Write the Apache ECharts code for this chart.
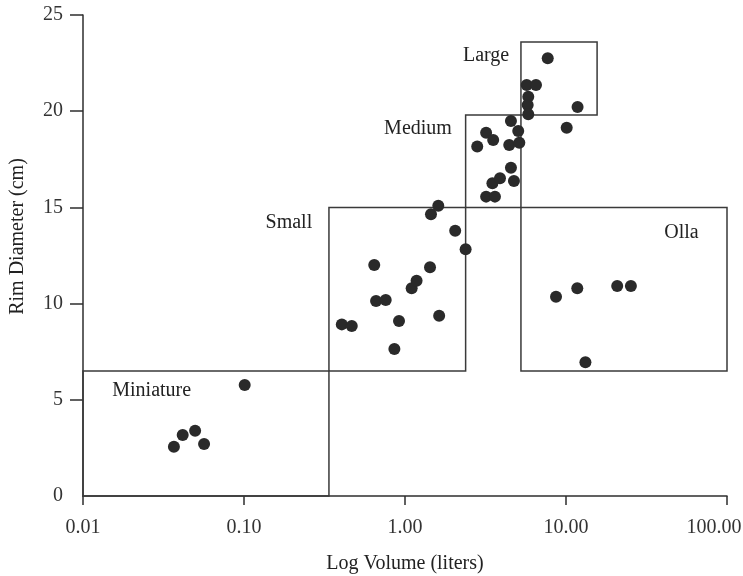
<!DOCTYPE html>
<html>
<head>
<meta charset="utf-8">
<script src="https://cdn.jsdelivr.net/npm/echarts@6/dist/echarts.min.js"></script>
<style>
  html, body { margin: 0; padding: 0; background: #fff; }
  #chart { width: 743px; height: 576px; }
</style>
</head>
<body>
<div id="chart"></div>
<script>
// vessel volume (liters) and rim diameter (cm)
const volume = [
  0.0367, 0.0416, 0.0497, 0.0565, 0.101,
  0.405, 0.467, 0.644, 0.661, 0.759, 0.859, 0.918, 1.10, 1.18, 1.43, 1.63, 1.45, 1.61, 2.05, 2.38,
  2.81, 3.19, 3.53, 4.44, 5.13, 4.55, 5.05, 4.55, 3.49, 3.89, 4.75, 3.19, 3.62,
  5.70, 6.51, 5.83, 5.78, 5.83, 7.70, 11.8, 10.1,
  8.67, 11.75, 20.8, 25.3, 13.2
];
const rimDiameter = [
  2.56, 3.17, 3.39, 2.70, 5.77,
  8.92, 8.84, 12.01, 10.14, 10.19, 7.64, 9.10, 10.80, 11.19, 11.89, 9.37, 14.64, 15.09, 13.79, 12.82,
  18.16, 18.88, 18.50, 18.24, 18.36, 19.49, 18.97, 17.06, 16.25, 16.51, 16.37, 15.56, 15.56,
  21.36, 21.36, 20.75, 20.32, 19.84, 22.75, 20.22, 19.14,
  10.36, 10.80, 10.91, 10.91, 6.95
];

// size classes and their bounds
const classNames = ['Miniature', 'Small', 'Medium', 'Large', 'Olla'];
const classVolMin = [0.01, 0.337, 2.38, 5.25, 5.25];
const classVolMax = [0.337, 2.38, 5.25, 15.6, 100];
const classRimMin = [0, 6.5, 15, 19.8, 6.5];
const classRimMax = [6.5, 15, 19.8, 23.6, 15];

const xTicks = [0.01, 0.1, 1, 10, 100];
const yTicks = [5, 10, 15, 20, 25];

const font = 'Liberation Serif';
const ink = '#2e2e2e';

// where each class label sits relative to its box
const labelPlace = {
  Miniature: { position: [30, 21], align: 'left' },
  Small: { position: [-16, 16], align: 'right' },
  Medium: { position: [-13, 14], align: 'right' },
  Large: { position: [-11, 15], align: 'right' },
  Olla: { position: [144, 26], align: 'left' }
};

const areas = classNames.map((name, i) => [
  {
    name: name,
    xAxis: classVolMin[i],
    yAxis: classRimMin[i],
    label: {
      show: true,
      position: labelPlace[name].position,
      align: labelPlace[name].align,
      verticalAlign: 'middle',
      color: '#222',
      fontFamily: font,
      fontSize: 20
    }
  },
  { xAxis: classVolMax[i], yAxis: classRimMax[i] }
]);

const chart = echarts.init(document.getElementById('chart'), null, { renderer: 'canvas' });

chart.setOption({
  backgroundColor: '#fff',
  animation: false,
  grid: { left: 83, right: 16, top: 15, bottom: 80, containLabel: false, outerBoundsMode: 'none' },
  xAxis: {
    type: 'log',
    logBase: 10,
    min: xTicks[0],
    max: xTicks[xTicks.length - 1],
    name: 'Log Volume (liters)',
    nameLocation: 'middle',
    nameGap: 58,
    nameTextStyle: { color: '#222', fontFamily: font, fontSize: 20 },
    axisLine: { lineStyle: { color: ink, width: 1.5 } },
    axisTick: { show: true, length: 9, lineStyle: { color: ink, width: 1.5 } },
    axisLabel: {
      color: '#333',
      fontFamily: font,
      fontSize: 20,
      margin: 22,
      formatter: v => {
        const s = Number(v).toFixed(2);
        return v >= xTicks[xTicks.length - 1] ? '{last|' + s + '}' : s;
      },
      rich: {
        last: { color: '#333', fontFamily: font, fontSize: 20, padding: [0, 26, 0, 0] }
      }
    },
    splitLine: { show: false },
    minorTick: { show: false }
  },
  yAxis: {
    type: 'value',
    min: 0,
    max: 25,
    interval: 5,
    name: 'Rim Diameter (cm)',
    nameLocation: 'middle',
    nameGap: 55,
    nameTextStyle: { color: '#222', fontFamily: font, fontSize: 20, padding: [0, 0, 0, 38] },
    axisLine: { show: true, lineStyle: { color: ink, width: 1.5 } },
    axisTick: { show: true, length: 13, customValues: yTicks, lineStyle: { color: ink, width: 1.5 } },
    axisLabel: { color: '#333', fontFamily: font, fontSize: 20, margin: 20 },
    splitLine: { show: false }
  },
  series: [
    {
      type: 'scatter',
      data: volume.map((v, i) => [v, rimDiameter[i]]),
      symbol: 'circle',
      symbolSize: 12,
      itemStyle: { color: '#2a2a2a', opacity: 1 },
      markArea: {
        silent: true,
        itemStyle: { color: 'rgba(0,0,0,0)', borderColor: '#3a3a3a', borderWidth: 1.5 },
        emphasis: { disabled: true },
        data: areas
      }
    }
  ]
});
</script>
</body>
</html>
